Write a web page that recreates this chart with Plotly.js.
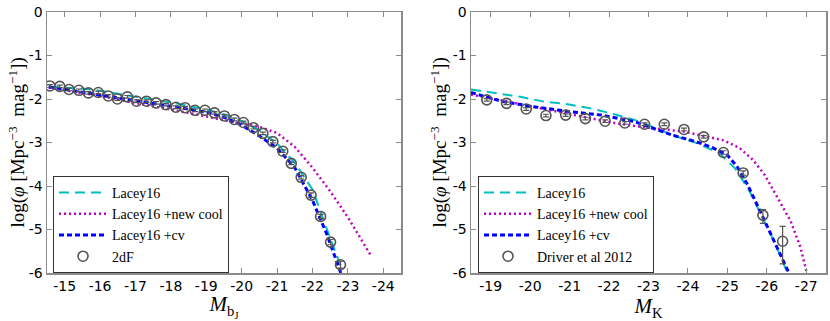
<!DOCTYPE html>
<html>
<head>
<meta charset="utf-8">
<script src="https://cdn.plot.ly/plotly-3.0.1.min.js"></script>
<style>
  html, body { margin: 0; padding: 0; background: #fff; }
  #lfPlot { width: 830px; height: 321px; }
</style>
</head>
<body>
<div id="lfPlot"></div>
<script>
// ---- bJ band (left panel) ----
const bjMag2dF = [-14.58, -14.86, -15.12, -15.40, -15.67, -15.95, -16.23, -16.49, -16.77, -17.03,
  -17.31, -17.58, -17.86, -18.14, -18.40, -18.68, -18.96, -19.23, -19.51, -19.79,
  -20.05, -20.33, -20.60, -20.88, -21.16, -21.40, -21.68, -21.96, -22.23, -22.51, -22.79];
const bjPhi2dF = [-1.70, -1.71, -1.78, -1.80, -1.86, -1.85, -1.93, -2.00, -1.95, -2.05,
  -2.05, -2.09, -2.13, -2.19, -2.20, -2.26, -2.26, -2.32, -2.39, -2.47,
  -2.54, -2.66, -2.79, -2.98, -3.20, -3.48, -3.80, -4.21, -4.70, -5.29, -5.81];
const bjErr2dF = [0.03, 0.03, 0.03, 0.03, 0.03, 0.03, 0.03, 0.03, 0.03, 0.03,
  0.03, 0.03, 0.03, 0.03, 0.03, 0.03, 0.03, 0.03, 0.03, 0.03,
  0.03, 0.03, 0.03, 0.03, 0.03, 0.03, 0.04, 0.05, 0.05, 0.06, 0.08];

const bjMagLacey = [-14.55, -15, -15.5, -16, -17, -17.5, -18, -18.5, -19, -19.5, -20, -20.5, -21, -21.5, -22, -22.5, -22.85];
const bjPhiLacey = [-1.72, -1.74, -1.76, -1.81, -1.94, -2.01, -2.08, -2.16, -2.24, -2.35, -2.51, -2.72, -3.02, -3.47, -4.08, -5.20, -5.95];

const bjMagCool = [-14.55, -15, -16, -17, -18, -19, -19.5, -20, -20.5, -21, -21.5, -22, -22.5, -23, -23.3, -23.65];
const bjPhiCool = [-1.74, -1.80, -1.93, -2.09, -2.24, -2.40, -2.49, -2.56, -2.64, -2.78, -3.10, -3.58, -4.12, -4.72, -5.12, -5.60];

const bjMagCv = [-14.55, -15, -16, -17, -18, -19, -19.5, -20, -20.5, -21, -21.5, -22, -22.4, -22.8];
const bjPhiCv = [-1.72, -1.78, -1.91, -2.05, -2.18, -2.30, -2.42, -2.60, -2.85, -3.13, -3.58, -4.33, -5.10, -6.00];

// ---- K band (right panel) ----
const kMagDriver = [-18.9, -19.4, -19.9, -20.4, -20.9, -21.4, -21.9, -22.4, -22.9, -23.4, -23.9, -24.4, -24.9, -25.4, -25.9, -26.4];
const kPhiDriver = [-2.02, -2.10, -2.23, -2.38, -2.37, -2.45, -2.51, -2.55, -2.58, -2.58, -2.70, -2.87, -3.23, -3.70, -4.67, -5.27];
const kErrUp = [0.03, 0.03, 0.03, 0.03, 0.03, 0.03, 0.03, 0.03, 0.03, 0.03, 0.03, 0.03, 0.04, 0.05, 0.13, 0.34];
const kErrDown = [0.03, 0.03, 0.03, 0.03, 0.03, 0.03, 0.03, 0.03, 0.03, 0.03, 0.03, 0.03, 0.04, 0.05, 0.19, 0.52];

const kMagLacey = [-18.5, -19.2, -19.75, -20.35, -20.95, -21.5, -22.05, -22.65, -23.2, -23.7, -24.25, -24.8, -25.2, -25.55, -25.85, -26.2, -26.5];
const kPhiLacey = [-1.78, -1.88, -1.95, -2.06, -2.12, -2.21, -2.33, -2.48, -2.67, -2.86, -3.02, -3.25, -3.60, -4.10, -4.65, -5.30, -5.95];

const kMagCool = [-18.5, -19.45, -20.4, -21.4, -22.25, -22.9, -23.9, -24.5, -24.9, -25.3, -25.65, -25.95, -26.25, -26.6, -26.85, -27.0];
const kPhiCool = [-1.90, -2.06, -2.24, -2.41, -2.57, -2.65, -2.75, -2.87, -2.95, -3.12, -3.40, -3.75, -4.22, -4.80, -5.40, -5.95];

const kMagCv = [-18.5, -19.3, -20.1, -21, -21.8, -22.65, -23.6, -24.2, -24.6, -25, -25.25, -25.5, -25.8, -26.05, -26.3, -26.55];
const kPhiCv = [-1.85, -2.06, -2.18, -2.29, -2.37, -2.52, -2.83, -2.98, -3.11, -3.29, -3.56, -3.95, -4.52, -5.00, -5.48, -5.98];

// tick labels (matplotlib style hyphen minus)
const bjTicks = [-15, -16, -17, -18, -19, -20, -21, -22, -23, -24];
const kTicks = [-19, -20, -21, -22, -23, -24, -25, -26, -27];
const phiTicks = [0, -1, -2, -3, -4, -5, -6];
const lbl = v => String(v).replace('\u2212', '-');

const serif = 'Liberation Serif, Times New Roman, serif';
const sans = 'DejaVu Sans, sans-serif';
const cyan = '#00bfbf', magenta = '#bf00bf', blue = '#0000ff', gray = '#555555';

const lineTrace = (x, y, name, color, dash, width, xa, ya, leg) => ({
  x: x, y: y, name: name, type: 'scatter', mode: 'lines',
  line: { color: color, dash: dash, width: width },
  xaxis: xa, yaxis: ya, legend: leg
});

const dataTrace = (x, y, up, down, name, xa, ya, leg) => ({
  x: x, y: y, name: name, type: 'scatter', mode: 'markers',
  marker: { symbol: 'circle-open', size: 10, color: gray, line: { width: 1.6, color: gray } },
  error_y: { type: 'data', array: up, arrayminus: down, color: gray, thickness: 1.2, width: 3 },
  xaxis: xa, yaxis: ya, legend: leg
});

const traces = [
  lineTrace(bjMagLacey, bjPhiLacey, 'Lacey16', cyan, '10px,6px', 2, 'x', 'y', 'legend'),
  lineTrace(bjMagCool, bjPhiCool, 'Lacey16 +new cool', magenta, '2px,3px', 2.5, 'x', 'y', 'legend'),
  lineTrace(bjMagCv, bjPhiCv, 'Lacey16 +cv', blue, '5px,3px', 3, 'x', 'y', 'legend'),
  dataTrace(bjMag2dF, bjPhi2dF, bjErr2dF, bjErr2dF, '2dF', 'x', 'y', 'legend'),
  lineTrace(kMagLacey, kPhiLacey, 'Lacey16', cyan, '10px,6px', 2, 'x2', 'y2', 'legend2'),
  lineTrace(kMagCool, kPhiCool, 'Lacey16 +new cool', magenta, '2px,3px', 2.5, 'x2', 'y2', 'legend2'),
  lineTrace(kMagCv, kPhiCv, 'Lacey16 +cv', blue, '5px,3px', 3, 'x2', 'y2', 'legend2'),
  dataTrace(kMagDriver, kPhiDriver, kErrUp, kErrDown, 'Driver et al 2012', 'x2', 'y2', 'legend2')
];

const axisStyle = {
  showgrid: false, zeroline: false, showline: true, linecolor: '#8c8c8c', linewidth: 1.5,
  mirror: 'allticks', ticks: 'inside', ticklen: 5, tickwidth: 1, tickcolor: '#8c8c8c',
  tickfont: { family: sans, size: 14, color: '#000' }, tickmode: 'array'
};

const legendStyle = {
  bgcolor: '#fff', bordercolor: '#333', borderwidth: 1,
  font: { family: serif, size: 14, color: '#000' },
  xanchor: 'left', yanchor: 'top', tracegroupgap: 0, itemwidth: 48
};

const yTitle = 'log(<i>φ</i> [Mpc<sup>−3</sup>  mag<sup>−1</sup>])';
const legendTop = (273 - 176) / 261;

const layout = {
  width: 830, height: 321,
  margin: { l: 0, r: 0, t: 12, b: 48 },
  paper_bgcolor: '#fff', plot_bgcolor: '#fff',
  showlegend: true,
  xaxis: Object.assign({}, axisStyle, {
    domain: [47 / 830, 401 / 830], range: [-14.5, -24.5], anchor: 'y',
    tickvals: bjTicks, ticktext: bjTicks.map(lbl),
    title: { text: '<i>M</i><sub>b<sub>J</sub></sub>', font: { family: serif, size: 21, color: '#000' }, standoff: 4 }
  }),
  yaxis: Object.assign({}, axisStyle, {
    domain: [0, 1], range: [-6, 0], anchor: 'x',
    tickvals: phiTicks, ticktext: phiTicks.map(lbl)
  }),
  xaxis2: Object.assign({}, axisStyle, {
    domain: [471 / 830, 826 / 830], range: [-18.5, -27.5], anchor: 'y2',
    tickvals: kTicks, ticktext: kTicks.map(lbl),
    title: { text: '<i>M</i><sub>K</sub>', font: { family: serif, size: 21, color: '#000' }, standoff: 4 }
  }),
  yaxis2: Object.assign({}, axisStyle, {
    domain: [0, 1], range: [-6, 0], anchor: 'x2',
    tickvals: phiTicks, ticktext: phiTicks.map(lbl)
  }),
  legend: Object.assign({}, legendStyle, { x: 53 / 830, y: legendTop }),
  legend2: Object.assign({}, legendStyle, { x: 478 / 830, y: legendTop }),
  annotations: [
    { text: yTitle, xref: 'paper', yref: 'paper', x: 17 / 830, y: 0.5, textangle: -90,
      showarrow: false, font: { family: serif, size: 19, color: '#000' }, xanchor: 'center', yanchor: 'middle' },
    { text: yTitle, xref: 'paper', yref: 'paper', x: 439 / 830, y: 0.5, textangle: -90,
      showarrow: false, font: { family: serif, size: 19, color: '#000' }, xanchor: 'center', yanchor: 'middle' }
  ]
};

Plotly.newPlot('lfPlot', traces, layout, { displayModeBar: false, staticPlot: true });
</script>
</body>
</html>
